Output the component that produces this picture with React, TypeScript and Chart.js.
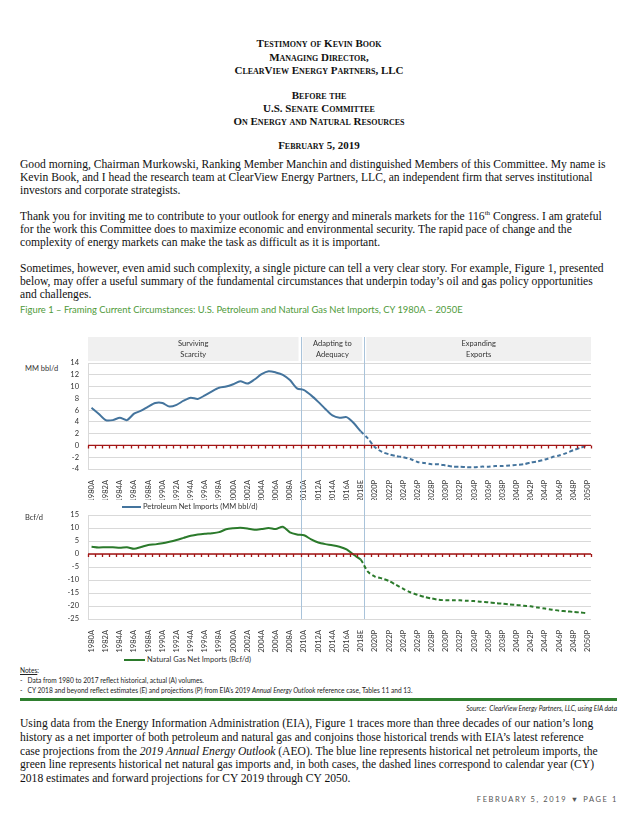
import React, { useEffect, useRef } from "react";
import { Chart, registerables } from "chart.js";

Chart.register(...registerables);

// ---------- DATA ----------
const categories = [
  "1980A", "1981A", "1982A", "1983A", "1984A", "1985A", "1986A", "1987A", "1988A", "1989A",
  "1990A", "1991A", "1992A", "1993A", "1994A", "1995A", "1996A", "1997A", "1998A", "1999A",
  "2000A", "2001A", "2002A", "2003A", "2004A", "2005A", "2006A", "2007A", "2008A", "2009A",
  "2010A", "2011A", "2012A", "2013A", "2014A", "2015A", "2016A", "2017A", "2018E", "2019P",
  "2020P", "2021P", "2022P", "2023P", "2024P", "2025P", "2026P", "2027P", "2028P", "2029P",
  "2030P", "2031P", "2032P", "2033P", "2034P", "2035P", "2036P", "2037P", "2038P", "2039P",
  "2040P", "2041P", "2042P", "2043P", "2044P", "2045P", "2046P", "2047P", "2048P", "2049P",
  "2050P",
];

// MM bbl/d
const petroleumNetImports = [
  6.4, 5.4, 4.3, 4.3, 4.7, 4.3, 5.4, 5.9, 6.6, 7.2,
  7.2, 6.6, 6.9, 7.6, 8.1, 7.9, 8.5, 9.2, 9.8, 10.0,
  10.4, 10.9, 10.5, 11.2, 12.1, 12.6, 12.4, 12.0, 11.1, 9.7,
  9.4, 8.5, 7.4, 6.2, 5.1, 4.7, 4.8, 3.8, 2.4, 1.2,
  -0.3, -1.1, -1.5, -1.8, -2.0, -2.3, -2.8, -3.0, -3.2, -3.2,
  -3.4, -3.6, -3.6, -3.7, -3.7, -3.6, -3.6, -3.5, -3.5, -3.4,
  -3.3, -3.2, -2.9, -2.7, -2.4, -2.0, -1.7, -1.3, -0.8, -0.4,
  0.0,
];

// Bcf/d
const naturalGasNetImports = [
  2.8, 2.5, 2.6, 2.6, 2.4, 2.6, 2.0, 2.7, 3.5, 3.7,
  4.1, 4.7, 5.4, 6.2, 7.0, 7.5, 7.8, 8.0, 8.4, 9.5,
  9.9, 10.1, 9.8, 9.3, 9.6, 10.0, 9.6, 10.5, 8.3, 7.5,
  7.2, 5.6, 4.4, 3.8, 3.4, 2.8, 1.8, -0.3, -2.2, -6.8,
  -8.7, -9.4, -10.4, -11.9, -13.4, -14.7, -15.7, -16.5, -17.1, -17.6,
  -17.8, -17.8, -17.8, -18.0, -18.1, -18.4, -18.6, -18.9, -19.1, -19.4,
  -19.6, -19.9, -20.1, -20.6, -21.0, -21.4, -21.8, -22.0, -22.3, -22.5,
  -22.8,
];

const petroleumAxis = [-4, 14, 2]; // min, max, step
const gasAxis = [-25, 15, 5];
const eraTitles = [["Surviving", "Scarcity"], ["Adapting to", "Adequacy"], ["Expanding", "Exports"]];
const eraEndsAfter = ["2009A", "2018E"];
const projectionStart = "2018E";

const petroleumLabel = "Petroleum Net Imports (MM bbl/d)";
const gasLabel = "Natural Gas Net Imports (Bcf/d)";

// ---------- STYLE ----------
const BLUE = "#44749d";
const GREEN = "#2b7a2b";
const DIVIDER = "#a9c3da";
const ZERO = "#a31515";
const SANS = "Lato, 'Open Sans', sans-serif";
const SERIF = "'Liberation Serif', serif";

function dividerPixels(chart: any) {
  const x = chart.scales.x;
  return eraEndsAfter.map((c) => {
    const i = categories.indexOf(c);
    return (x.getPixelForValue(i) + x.getPixelForValue(i + 1)) / 2;
  });
}

const zeroLinePlugin = {
  id: "zeroLine",
  afterDatasetsDraw(chart: any) {
    const { ctx, chartArea, scales } = chart;
    const y0 = scales.y.getPixelForValue(0);
    const x = scales.x;
    ctx.save();
    ctx.strokeStyle = ZERO;
    ctx.lineWidth = 1.3;
    ctx.beginPath();
    ctx.moveTo(chartArea.left, y0);
    ctx.lineTo(chartArea.right, y0);
    for (let i = 0; i <= categories.length; i++) {
      const px = i < categories.length
        ? x.getPixelForValue(i) - (x.getPixelForValue(1) - x.getPixelForValue(0)) / 2
        : chartArea.right;
      ctx.moveTo(Math.round(px) + 0.5, y0);
      ctx.lineTo(Math.round(px) + 0.5, y0 + 3);
    }
    ctx.stroke();
    ctx.restore();
  },
};

function makeDividerPlugin(top: boolean) {
  return {
    id: "dividers",
    beforeDatasetsDraw(chart: any) {
      const { ctx, chartArea } = chart;
      const xs = dividerPixels(chart);
      ctx.save();
      if (top) {
        const bandTop = 2;
        const bandBottom = chartArea.top - 2;
        const edges = [chartArea.left, ...xs, chartArea.right];
        for (let k = 0; k < eraTitles.length; k++) {
          const l = edges[k] + (k === 0 ? 0 : 2);
          const r = edges[k + 1] - (k === eraTitles.length - 1 ? 0 : 2);
          ctx.fillStyle = "#f0f0f0";
          ctx.fillRect(l, bandTop, r - l, bandBottom - bandTop);
          ctx.fillStyle = "#333";
          ctx.font = `7.5px ${SANS}`;
          ctx.textAlign = "center";
          ctx.textBaseline = "middle";
          const cx = (l + r) / 2;
          ctx.fillText(eraTitles[k][0], cx, bandTop + 6.5);
          ctx.fillText(eraTitles[k][1], cx, bandTop + 18);
        }
      }
      ctx.strokeStyle = DIVIDER;
      ctx.lineWidth = 1;
      for (const px of xs) {
        ctx.beginPath();
        ctx.moveTo(Math.round(px) + 0.5, top ? 2 : 0);
        ctx.lineTo(Math.round(px) + 0.5, top ? chart.height : chartArea.bottom);
        ctx.stroke();
      }
      ctx.restore();
    },
  };
}

function makeConfig(values: number[], color: string, axis: number[], label: string, top: boolean, axisHeight: number): any {
  const split = categories.indexOf(projectionStart);
  return {
    type: "line",
    data: {
      labels: categories,
      datasets: [
        {
          label,
          data: values,
          borderColor: color,
          borderWidth: 2,
          pointRadius: 0,
          tension: 0.25,
          fill: false,
          segment: {
            borderDash: (c: any) => (c.p0DataIndex >= split ? [4, 2.5] : undefined),
          },
        },
      ],
    },
    options: {
      animation: false,
      responsive: true,
      maintainAspectRatio: false,
      layout: { padding: { top: top ? 28 : 15, right: 29, left: 0, bottom: 0 } },
      plugins: { legend: { display: false }, tooltip: { enabled: false } },
      scales: {
        x: {
          offset: true,
          grid: { display: false },
          border: { display: false },
          afterFit: (s: any) => { s.height = axisHeight; },
          ticks: {
            autoSkip: false,
            minRotation: 90,
            maxRotation: 90,
            padding: 3,
            color: "#333",
            font: { family: SANS, size: 7.5 },
            callback: (_v: any, i: number) => (i % 2 === 0 ? categories[i] : ""),
          },
        },
        y: {
          min: axis[0],
          max: axis[1],
          afterFit: (s: any) => { s.width = 68; },
          grid: { color: "#d9d9d9", drawTicks: false, lineWidth: 1 },
          border: { display: true, color: "#d9d9d9" },
          ticks: {
            stepSize: axis[2],
            autoSkip: false,
            padding: 9,
            color: "#333",
            font: { family: SANS, size: 7.5 },
          },
        },
      },
    },
    plugins: [makeDividerPlugin(top), zeroLinePlugin],
  };
}

function ChartBox(props: { values: number[]; color: string; axis: number[]; label: string; top: boolean; axisHeight: number; style: React.CSSProperties }) {
  const ref = useRef<HTMLCanvasElement>(null);
  useEffect(() => {
    const chart = new Chart(ref.current as HTMLCanvasElement, makeConfig(props.values, props.color, props.axis, props.label, props.top, props.axisHeight));
    return () => chart.destroy();
  }, []);
  return (
    <div style={{ position: "absolute", ...props.style }}>
      <canvas ref={ref} />
    </div>
  );
}

function L(props: { top: number; left?: number; children: any; style?: React.CSSProperties }) {
  return (
    <div style={{ position: "absolute", top: props.top, left: props.left ?? 20, whiteSpace: "nowrap", ...props.style }}>
      {props.children}
    </div>
  );
}

const bodyStyle: React.CSSProperties = { fontFamily: SERIF, fontSize: 11.6, color: "#111", lineHeight: "13px" };
const titleStyle: React.CSSProperties = {
  fontFamily: SERIF, fontSize: 11, fontWeight: "bold", fontVariant: "small-caps", color: "#111",
  left: 0, width: 638, textAlign: "center", lineHeight: "13px",
};
const tiny: React.CSSProperties = { fontFamily: SANS, fontSize: 6.6, color: "#222", lineHeight: "9px" };

function LegendItem(props: { top: number; left: number; color: string; text: string; lineW: number }) {
  return (
    <div style={{ position: "absolute", top: props.top, left: props.left, display: "flex", alignItems: "center", fontFamily: SANS, fontSize: 7.5, color: "#333", whiteSpace: "nowrap" }}>
      <span style={{ display: "inline-block", width: props.lineW, height: 2, background: props.color, marginRight: 2 }} />
      <span>{props.text}</span>
    </div>
  );
}

export default function App() {
  return (
    <div style={{ position: "absolute", left: 0, top: 0, width: 638, height: 826, background: "#fff", overflow: "hidden" }}>
      <L top={37} style={titleStyle}>Testimony of Kevin Book</L>
      <L top={51} style={titleStyle}>Managing Director,</L>
      <L top={64} style={titleStyle}>ClearView Energy Partners, LLC</L>
      <L top={89} style={titleStyle}>Before the</L>
      <L top={102} style={titleStyle}>U.S. Senate Committee</L>
      <L top={115} style={titleStyle}>On Energy and Natural Resources</L>
      <L top={139} style={titleStyle}>February 5, 2019</L>

      <L top={158} style={bodyStyle}>Good morning, Chairman Murkowski, Ranking Member Manchin and distinguished Members of this Committee. My name is</L>
      <L top={171} style={bodyStyle}>Kevin Book, and I head the research team at ClearView Energy Partners, LLC, an independent firm that serves institutional</L>
      <L top={184} style={bodyStyle}>investors and corporate strategists.</L>

      <L top={210} style={bodyStyle}>Thank you for inviting me to contribute to your outlook for energy and minerals markets for the 116<sup style={{ fontSize: 7, lineHeight: 0 }}>th</sup> Congress. I am grateful</L>
      <L top={223} style={bodyStyle}>for the work this Committee does to maximize economic and environmental security. The rapid pace of change and the</L>
      <L top={236} style={bodyStyle}>complexity of energy markets can make the task as difficult as it is important.</L>

      <L top={262} style={bodyStyle}>Sometimes, however, even amid such complexity, a single picture can tell a very clear story. For example, Figure 1, presented</L>
      <L top={275} style={bodyStyle}>below, may offer a useful summary of the fundamental circumstances that underpin today’s oil and gas policy opportunities</L>
      <L top={288} style={bodyStyle}>and challenges.</L>

      <L top={304} style={{ fontFamily: SANS, fontSize: 9.4, color: "#4f9a3a" }}>Figure 1 – Framing Current Circumstances: U.S. Petroleum and Natural Gas Net Imports, CY 1980A – 2050E</L>

      <L top={364} left={25} style={{ fontFamily: SANS, fontSize: 7.5, color: "#333" }}>MM bbl/d</L>
      <ChartBox values={petroleumNetImports} color={BLUE} axis={petroleumAxis} label={petroleumLabel} top={true} axisHeight={31}
        style={{ left: 20, top: 335, width: 600, height: 165 }} />
      <ChartBox values={naturalGasNetImports} color={GREEN} axis={gasAxis} label={gasLabel} top={false} axisHeight={35}
        style={{ left: 20, top: 500, width: 600, height: 154 }} />
      <LegendItem top={502} left={122} color={BLUE} text={petroleumLabel} lineW={19} />
      <L top={513} left={25} style={{ fontFamily: SANS, fontSize: 7.5, color: "#333" }}>Bcf/d</L>
      <LegendItem top={655} left={124} color={GREEN} text={gasLabel} lineW={21} />

      <L top={666} style={tiny}><span style={{ textDecoration: "underline" }}>Notes</span>:</L>
      <L top={676} style={tiny}>-&nbsp;&nbsp; Data from 1980 to 2017 reflect historical, actual (A) volumes.</L>
      <L top={686} style={tiny}>-&nbsp;&nbsp; CY 2018 and beyond reflect estimates (E) and projections (P) from EIA’s 2019 <i>Annual Energy Outlook</i> reference case, Tables 11 and 13.</L>
      <div style={{ position: "absolute", left: 20, top: 698, width: 597, height: 2.5, background: "#2f7f2f" }} />
      <L top={704} left={0} style={{ ...tiny, width: 617, textAlign: "right", fontStyle: "italic" }}>Source:&nbsp; ClearView Energy Partners, LLC, using EIA data</L>

      <L top={717} style={bodyStyle}>Using data from the Energy Information Administration (EIA), Figure 1 traces more than three decades of our nation’s long</L>
      <L top={731} style={bodyStyle}>history as a net importer of both petroleum and natural gas and conjoins those historical trends with EIA’s latest reference</L>
      <L top={745} style={bodyStyle}>case projections from the <i>2019 Annual Energy Outlook</i> (AEO). The blue line represents historical net petroleum imports, the</L>
      <L top={758} style={bodyStyle}>green line represents historical net natural gas imports and, in both cases, the dashed lines correspond to calendar year (CY)</L>
      <L top={772} style={bodyStyle}>2018 estimates and forward projections for CY 2019 through CY 2050.</L>

      <L top={795} left={0} style={{ fontFamily: SANS, fontSize: 7.5, color: "#555", letterSpacing: 1.6, width: 618, textAlign: "right" }}>FEBRUARY 5, 2019 ▼ PAGE 1</L>
    </div>
  );
}
